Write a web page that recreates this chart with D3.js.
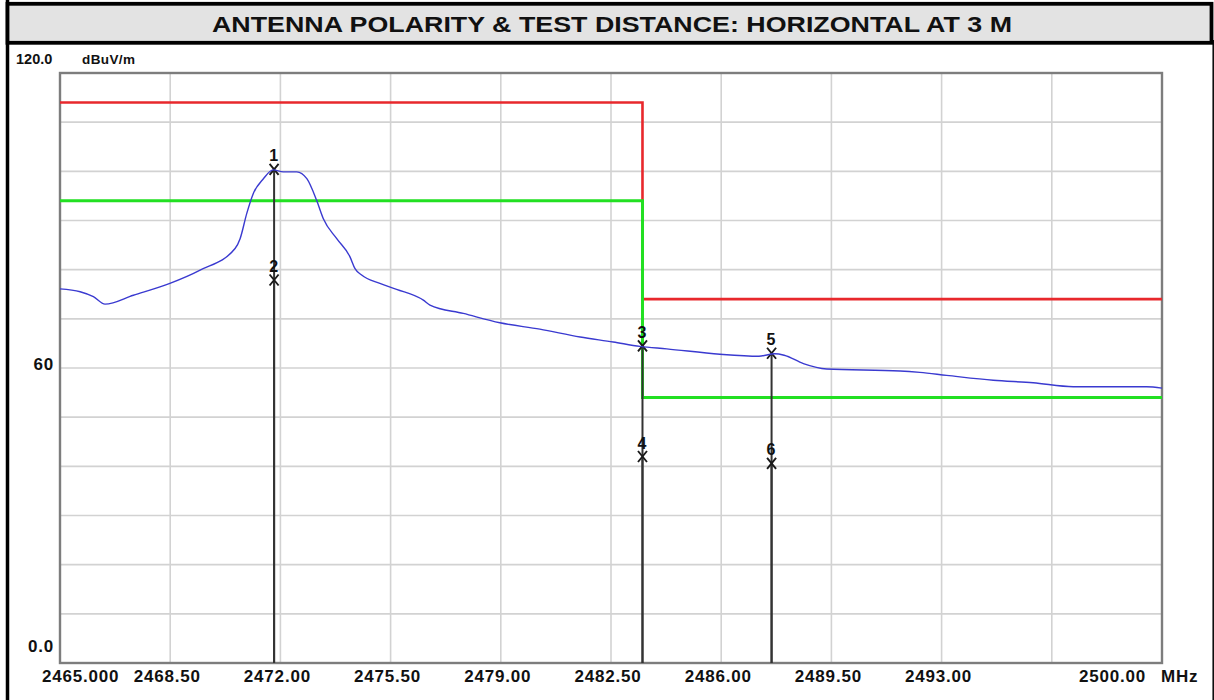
<!DOCTYPE html>
<html>
<head>
<meta charset="utf-8">
<script src="https://cdn.jsdelivr.net/npm/d3@7/dist/d3.min.js"></script>
<style>
  html, body { margin: 0; padding: 0; background: #ffffff; }
  svg { display: block; }
  text { font-family: "Liberation Sans", Arial, sans-serif; font-weight: bold; fill: #111; }
</style>
</head>
<body>
<script>
// ---------------- DATA ----------------
const titleText = "ANTENNA POLARITY & TEST DISTANCE: HORIZONTAL AT 3 M";
const yUnit = "dBuV/m";
const xUnit = "MHz";

const xDomain = [2465, 2500];
const yDomain = [0, 120];

const xGridValues = [2465, 2468.5, 2472, 2475.5, 2479, 2482.5, 2486, 2489.5, 2493, 2496.5, 2500];
const xTickLabels = ["2465.000", "2468.50", "2472.00", "2475.50", "2479.00", "2482.50", "2486.00", "2489.50", "2493.00", "", "2500.00"];
const yGridValues = [0, 10, 20, 30, 40, 50, 60, 70, 80, 90, 100, 110, 120];
const yLabelValues = [120, 60, 0];
const yTickLabels = ["120.0", "60", "0.0"];

// Measured trace (frequency in MHz, level in dBuV/m)
const traceFreq = [2465.00, 2465.64, 2466.06, 2466.43, 2467.33, 2468.49, 2469.45, 2470.56, 2470.72, 2470.93,
  2471.14, 2471.46, 2471.77, 2472.09, 2472.52, 2472.84, 2473.15, 2473.36, 2473.79, 2474.21,
  2474.37, 2474.58, 2475.16, 2475.69, 2476.54, 2476.75, 2477.81, 2478.97, 2480.24, 2481.52,
  2482.57, 2483.42, 2484.27, 2485.96, 2487.20, 2487.70, 2488.00, 2488.61, 2489.35, 2491.68,
  2492.31, 2493.16, 2494.64, 2495.91, 2497.18, 2499.51, 2500.00];
const traceLevel = [76.1, 75.5, 74.5, 73.0, 74.8, 77.2, 79.9, 84.3, 86.3, 91.4,
  95.5, 98.5, 100.3, 99.9, 99.9, 98.5, 94.1, 90.4, 86.3, 82.6,
  80.2, 78.9, 77.2, 76.0, 73.8, 72.8, 71.1, 69.2, 67.9, 66.3,
  65.3, 64.4, 63.9, 62.8, 62.4, 62.9, 62.6, 60.9, 59.8, 59.4,
  59.1, 58.5, 57.5, 57.0, 56.2, 56.2, 55.9];

// Limit lines (peak = red, average = green)
const peakLimitFreq = [2465, 2483.5, 2483.5, 2500];
const peakLimitLevel = [114, 114, 74, 74];
const avgLimitFreq = [2465, 2483.5, 2483.5, 2500];
const avgLimitLevel = [94, 94, 54, 54];

// Markers
const markerLabel = ["1", "2", "3", "4", "5", "6"];
const markerFreq = [2471.80, 2471.80, 2483.50, 2483.50, 2487.60, 2487.60];
const markerLevel = [100.4, 77.9, 64.5, 42.0, 63.0, 40.6];

// ---------------- LAYOUT ----------------
const W = 1214, H = 700;
const plot = { left: 60, right: 1162, top: 73, bottom: 663 };

const svg = d3.select("body").append("svg").attr("width", W).attr("height", H);

const x = d3.scaleLinear().domain(xDomain).range([plot.left, plot.right]);
const y = d3.scaleLinear().domain(yDomain).range([plot.bottom, plot.top]);

// Outer frame
svg.append("rect").attr("x", 0).attr("y", 0).attr("width", W).attr("height", H).attr("fill", "#fff");
svg.append("line").attr("x1", 7.5).attr("x2", 7.5).attr("y1", 0).attr("y2", H)
  .attr("stroke", "#000").attr("stroke-width", 3.5);
svg.append("line").attr("x1", 1213.2).attr("x2", 1213.2).attr("y1", 40).attr("y2", H)
  .attr("stroke", "#000").attr("stroke-width", 1.5);

// Title band
svg.append("rect").attr("x", 7.5).attr("y", 3.8).attr("width", 1204).attr("height", 39)
  .attr("fill", "#e3e3e3").attr("stroke", "#000").attr("stroke-width", 3.8);
svg.append("text").attr("x", 612).attr("y", 31.5).attr("text-anchor", "middle")
  .attr("font-size", 22.5).attr("textLength", 800).attr("lengthAdjust", "spacingAndGlyphs")
  .text(titleText);

// Grid
const grid = svg.append("g");
grid.selectAll("line.vg").data(xGridValues.slice(1, -1)).join("line")
  .attr("x1", d => x(d)).attr("x2", d => x(d)).attr("y1", plot.top).attr("y2", plot.bottom)
  .attr("stroke", "#d2d2d2").attr("stroke-width", 1.6);
grid.selectAll("line.hg").data(yGridValues.slice(1, -1)).join("line")
  .attr("x1", plot.left).attr("x2", plot.right).attr("y1", d => y(d)).attr("y2", d => y(d))
  .attr("stroke", "#d2d2d2").attr("stroke-width", 1.6);

// Plot frame
svg.append("rect").attr("x", plot.left).attr("y", plot.top)
  .attr("width", plot.right - plot.left).attr("height", plot.bottom - plot.top)
  .attr("fill", "none").attr("stroke", "#7d7d7d").attr("stroke-width", 2.4);

// Limit lines
const line = d3.line().x(d => x(d[0])).y(d => y(d[1]));
svg.append("path").datum(peakLimitFreq.map((f, i) => [f, peakLimitLevel[i]]))
  .attr("d", line).attr("fill", "none").attr("stroke", "#e8282c").attr("stroke-width", 2.6);
svg.append("path").datum(avgLimitFreq.map((f, i) => [f, avgLimitLevel[i]]))
  .attr("d", line).attr("fill", "none").attr("stroke", "#22e022").attr("stroke-width", 3);

// Marker vertical lines
const mk = svg.append("g");
mk.selectAll("line.ml").data(markerFreq.map((f, i) => ({ f, v: markerLevel[i] }))).join("line")
  .attr("x1", d => x(d.f)).attr("x2", d => x(d.f))
  .attr("y1", d => y(d.v)).attr("y2", plot.bottom)
  .attr("stroke", "#333").attr("stroke-width", 2);

// Trace
const traceLine = d3.line().x(d => x(d[0])).y(d => y(d[1])).curve(d3.curveMonotoneX);
svg.append("path").datum(traceFreq.map((f, i) => [f, traceLevel[i]]))
  .attr("d", traceLine).attr("fill", "none").attr("stroke", "#3a3ad0").attr("stroke-width", 1.4);

// Marker crosses and labels
const mg = mk.selectAll("g.m").data(markerFreq.map((f, i) => ({ f, v: markerLevel[i], l: markerLabel[i] }))).join("g")
  .attr("transform", d => `translate(${x(d.f)},${y(d.v)})`);
mg.append("path").attr("d", "M-4.5,-5.5 L4.5,5.5 M-4.5,5.5 L4.5,-5.5")
  .attr("stroke", "#1a1a1a").attr("stroke-width", 1.9).attr("fill", "none");
mg.append("text").attr("x", -0.5).attr("y", -8).attr("text-anchor", "middle")
  .attr("font-size", 16).text(d => d.l);

// X tick labels
const xl = svg.append("g");
xGridValues.forEach((v, i) => {
  const t = xTickLabels[i];
  if (!t) return;
  const txt = xl.append("text").attr("y", 682).attr("font-size", 17).attr("letter-spacing", 0.8).text(t);
  if (i === 0) {
    txt.attr("x", x(v) - 18).attr("text-anchor", "start");
  } else if (i === xGridValues.length - 1) {
    txt.attr("x", x(v) - 16).attr("text-anchor", "end");
  } else {
    txt.attr("x", x(v) - 3).attr("text-anchor", "middle");
  }
});
xl.append("text").attr("x", x(xDomain[1]) - 1).attr("y", 682).attr("font-size", 17)
  .attr("letter-spacing", 0.8).text(xUnit);

// Y labels
yLabelValues.forEach((v, i) => {
  const t = yTickLabels[i];
  if (v === yDomain[1]) {
    svg.append("text").attr("x", 16).attr("y", 64).attr("font-size", 14.5).text(t);
  } else if (v === yDomain[0]) {
    svg.append("text").attr("x", 54).attr("y", y(v) - 11).attr("text-anchor", "end")
      .attr("font-size", 17).attr("letter-spacing", 0.8).text(t);
  } else {
    svg.append("text").attr("x", 54).attr("y", y(v) + 1.5).attr("text-anchor", "end")
      .attr("font-size", 17).attr("letter-spacing", 0.8).text(t);
  }
});
svg.append("text").attr("x", 82).attr("y", 64).attr("font-size", 13.5).attr("letter-spacing", 0.4).text(yUnit);
</script>
</body>
</html>
